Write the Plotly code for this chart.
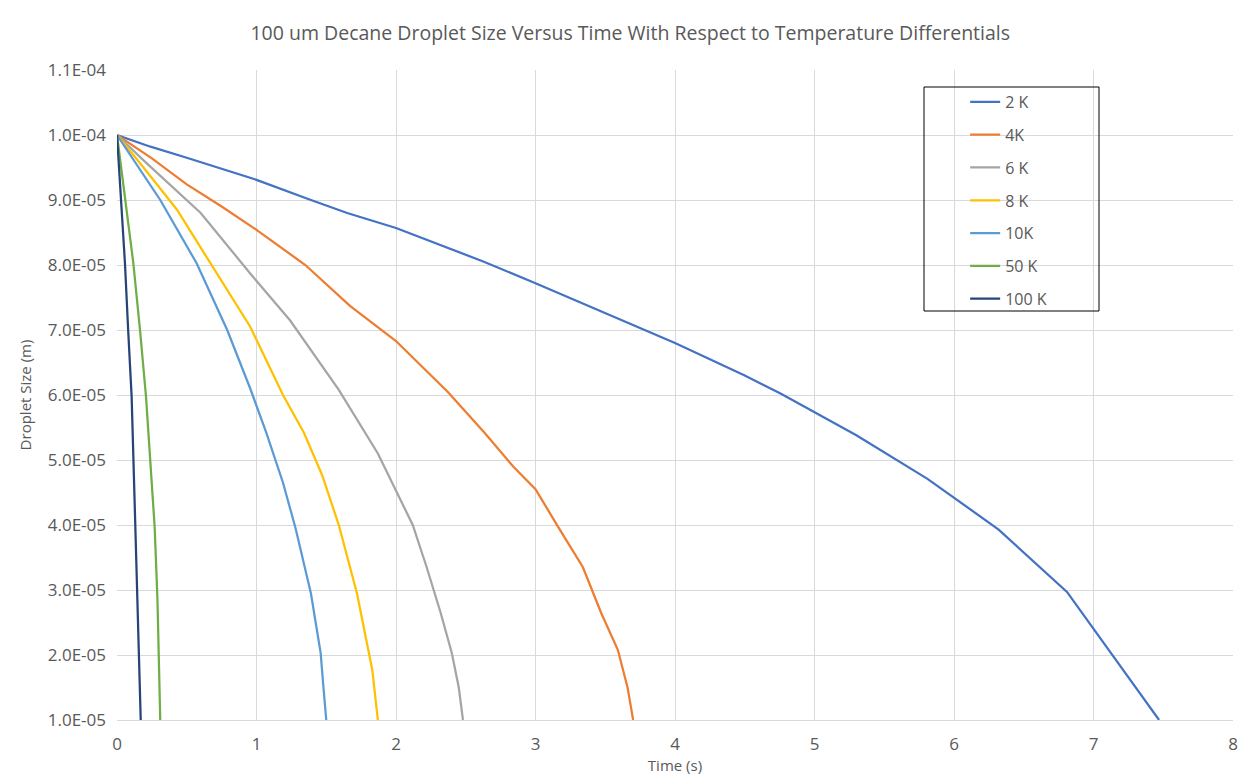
import plotly.graph_objects as go

# ---- data ----
series_names = ["2 K", "4K", "6 K", "8 K", "10K", "50 K", "100 K"]

t_2K = [0, 0.24, 0.5, 0.75, 1.0, 1.39, 1.65, 2.0, 2.63, 3.0, 3.25, 3.5, 4.0, 4.5, 4.76, 5.3, 5.81, 6.32, 6.81, 7.47]
d_2K = [1.0e-4, 9.82e-5, 9.65e-5, 9.48e-5, 9.31e-5, 9.0e-5, 8.8e-5, 8.57e-5, 8.05e-5, 7.72e-5, 7.49e-5, 7.26e-5, 6.8e-5, 6.3e-5, 6.02e-5, 5.38e-5, 4.71e-5, 3.93e-5, 2.97e-5, 1.0e-5]

t_4K = [0, 0.25, 0.5, 0.75, 1.0, 1.35, 1.67, 2.0, 2.37, 2.63, 2.84, 3.0, 3.16, 3.34, 3.47, 3.59, 3.66, 3.70]
d_4K = [1.0e-4, 9.64e-5, 9.24e-5, 8.9e-5, 8.54e-5, 8.0e-5, 7.37e-5, 6.83e-5, 6.05e-5, 5.43e-5, 4.9e-5, 4.55e-5, 3.98e-5, 3.35e-5, 2.65e-5, 2.08e-5, 1.5e-5, 1.0e-5]

t_6K = [0, 0.2, 0.6, 0.955, 1.24, 1.59, 1.87, 2.0, 2.12, 2.22, 2.32, 2.40, 2.45, 2.48]
d_6K = [1.0e-4, 9.59e-5, 8.8e-5, 7.87e-5, 7.15e-5, 6.08e-5, 5.1e-5, 4.54e-5, 4.0e-5, 3.35e-5, 2.65e-5, 2.03e-5, 1.5e-5, 1.0e-5]

t_8K = [0, 0.19, 0.43, 0.67, 0.955, 1.19, 1.34, 1.47, 1.59, 1.72, 1.83, 1.87]
d_8K = [1.0e-4, 9.5e-5, 8.85e-5, 8.03e-5, 7.05e-5, 6.0e-5, 5.42e-5, 4.77e-5, 4.0e-5, 2.95e-5, 1.77e-5, 1.0e-5]

t_10K = [0, 0.31, 0.57, 0.79, 0.955, 1.07, 1.19, 1.28, 1.39, 1.46, 1.48, 1.50]
d_10K = [1.0e-4, 9.0e-5, 8.03e-5, 7.0e-5, 6.1e-5, 5.42e-5, 4.65e-5, 3.95e-5, 2.95e-5, 2.03e-5, 1.5e-5, 1.0e-5]

t_50K = [0, 0.057, 0.117, 0.165, 0.208, 0.27, 0.29, 0.31]
d_50K = [1.0e-4, 9.0e-5, 8.03e-5, 7.0e-5, 5.97e-5, 3.97e-5, 2.85e-5, 1.0e-5]

t_100K = [0, 0.03, 0.057, 0.08, 0.105, 0.13, 0.145, 0.17]
d_100K = [1.0e-4, 9.0e-5, 8.03e-5, 7.0e-5, 5.97e-5, 4.08e-5, 2.85e-5, 1.0e-5]

y_tickvals = [1.0e-5, 2.0e-5, 3.0e-5, 4.0e-5, 5.0e-5, 6.0e-5, 7.0e-5, 8.0e-5, 9.0e-5, 1.0e-4, 1.1e-4]
y_ticktext = ["1.0E-05", "2.0E-05", "3.0E-05", "4.0E-05", "5.0E-05", "6.0E-05",
              "7.0E-05", "8.0E-05", "9.0E-05", "1.0E-04", "1.1E-04"]
x_tickvals = [0, 1, 2, 3, 4, 5, 6, 7, 8]

colors = ["#4472C4", "#ED7D31", "#A5A5A5", "#FFC000", "#5B9BD5", "#70AD47", "#264478"]
xs = [t_2K, t_4K, t_6K, t_8K, t_10K, t_50K, t_100K]
ys = [d_2K, d_4K, d_6K, d_8K, d_10K, d_50K, d_100K]

FONT = "Open Sans, Liberation Sans, sans-serif"
TXT = "#595959"

fig = go.Figure()
for i, (name, x, y, c) in enumerate(zip(series_names, xs, ys, colors)):
    fig.add_trace(go.Scatter(x=x, y=y, mode="lines", name=name,
                             legendgroup=f"g{i}",
                             line=dict(color=c, width=2.25)))

fig.update_layout(
    width=1252, height=778,
    paper_bgcolor="white", plot_bgcolor="white",
    margin=dict(l=109, r=27, t=62, b=66),
    title=dict(text="100 um Decane Droplet Size Versus Time With Respect to Temperature Differentials",
               x=0.497, xanchor="center", xref="container", y=0.967, yanchor="middle", yref="container",
               font=dict(family=FONT, size=19.5, color=TXT)),
    font=dict(family=FONT, color=TXT),
    showlegend=True,
    legend=dict(x=0.760, y=0.977, xanchor="left", yanchor="top",
                bgcolor="rgba(0,0,0,0)", borderwidth=0,
                traceorder="grouped", tracegroupgap=9,
                font=dict(family=FONT, size=16, color=TXT),
                itemwidth=30),
    shapes=[
        dict(type="rect", xref="paper", yref="paper",
             x0=(924 - 117) / 1116, x1=(1099 - 117) / 1116,
             y0=(720 - 311) / 650, y1=(720 - 87) / 650,
             line=dict(color="black", width=1), fillcolor="rgba(0,0,0,0)", layer="above"),
        dict(type="rect", xref="paper", yref="paper",
             x0=(6 - 117) / 1116, x1=(1270 - 117) / 1116,
             y0=(720 - 800) / 650, y1=(720 - 6) / 650,
             line=dict(color="#d9d9d9", width=1), fillcolor="rgba(0,0,0,0)", layer="below"),
    ],
)

fig.update_xaxes(range=[0, 8], tickvals=x_tickvals, showgrid=True, gridcolor="#d9d9d9", gridwidth=1,
                 zeroline=False, showline=True, linecolor="#d9d9d9", linewidth=1,
                 ticks="", ticklabelstandoff=9, tickfont=dict(size=17, color=TXT),
                 title=dict(text="Time (s)", font=dict(size=15, color=TXT), standoff=2))
fig.update_yaxes(range=[1.0e-5, 1.1e-4], tickvals=y_tickvals, ticktext=y_ticktext,
                 showgrid=True, gridcolor="#d9d9d9", gridwidth=1, zeroline=False,
                 showline=False, ticks="", ticklabelstandoff=10, tickfont=dict(size=17, color=TXT),
                 title=dict(text="Droplet Size (m)", font=dict(size=15, color=TXT), standoff=12))

fig.write_html("out.html")
